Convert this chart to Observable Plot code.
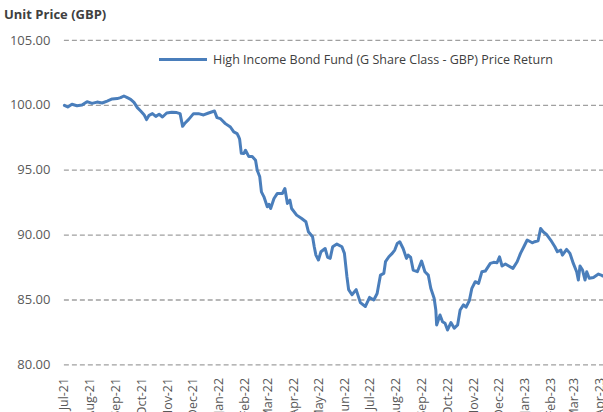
<!DOCTYPE html>
<html>
<head>
<meta charset="utf-8">
<script src="https://cdn.jsdelivr.net/npm/d3@7"></script>
<script src="https://cdn.jsdelivr.net/npm/@observablehq/plot@0.6"></script>
<style>
  html, body { margin: 0; padding: 0; background: #fff; overflow: hidden; }
  #wrap { position: relative; width: 603px; height: 412px; overflow: hidden; font-family: "Open Sans", sans-serif; }
  #title { position: absolute; left: 4px; top: 5px; font-size: 13px; font-weight: bold; color: #404040; }
  #legend { position: absolute; left: 159px; top: 51px; font-size: 12.5px; color: #404040; display: flex; align-items: center; white-space: nowrap; }
  #legend .sw { width: 48px; height: 3px; background: #4a7ebb; margin-right: 6px; }
  #chart { position: absolute; left: 0; top: 0; }
</style>
</head>
<body>
<div id="wrap">
  <div id="chart"></div>
  <div id="title">Unit Price (GBP)</div>
  <div id="legend"><span class="sw"></span><span id="legendText"></span></div>
</div>
<script>
const seriesName = "High Income Bond Fund (G Share Class - GBP) Price Return";
const yTicks = [80, 85, 90, 95, 100, 105];
const dates = [
  "2021-07-01","2021-07-05","2021-07-10","2021-07-16","2021-07-22","2021-07-28",
  "2021-08-03","2021-08-09","2021-08-15","2021-08-21","2021-08-27",
  "2021-09-02","2021-09-06","2021-09-10","2021-09-14","2021-09-18","2021-09-22","2021-09-26","2021-09-30",
  "2021-10-04","2021-10-07","2021-10-10","2021-10-14","2021-10-18","2021-10-22","2021-10-26","2021-10-31",
  "2021-11-06","2021-11-12","2021-11-16","2021-11-19","2021-11-22","2021-11-26",
  "2021-12-02","2021-12-08","2021-12-14","2021-12-20","2021-12-27","2021-12-30",
  "2022-01-03","2022-01-05","2022-01-09","2022-01-15","2022-01-19","2022-01-23","2022-01-25","2022-01-26","2022-01-28","2022-01-31",
  "2022-02-02","2022-02-06","2022-02-10","2022-02-14","2022-02-16","2022-02-19","2022-02-21","2022-02-24","2022-02-28",
  "2022-03-02","2022-03-04","2022-03-08","2022-03-12","2022-03-18","2022-03-21","2022-03-24","2022-03-27","2022-03-29",
  "2022-04-04","2022-04-10","2022-04-15","2022-04-18","2022-04-23","2022-04-25","2022-04-27","2022-04-30",
  "2022-05-03","2022-05-08","2022-05-11","2022-05-14","2022-05-17","2022-05-22","2022-05-28","2022-05-31",
  "2022-06-03","2022-06-05","2022-06-09","2022-06-14","2022-06-19","2022-06-25","2022-06-30",
  "2022-07-05","2022-07-09","2022-07-13","2022-07-17","2022-07-19","2022-07-23","2022-07-27","2022-07-30",
  "2022-08-02","2022-08-05","2022-08-09","2022-08-13","2022-08-15","2022-08-18","2022-08-21","2022-08-26","2022-08-31",
  "2022-09-04","2022-09-08","2022-09-11","2022-09-15","2022-09-17","2022-09-18","2022-09-22","2022-09-25","2022-09-28",
  "2022-10-01","2022-10-05","2022-10-09","2022-10-13","2022-10-16","2022-10-20","2022-10-23","2022-10-27","2022-10-30",
  "2022-11-03","2022-11-07","2022-11-11","2022-11-15","2022-11-21","2022-11-25","2022-11-29",
  "2022-12-02","2022-12-05","2022-12-09","2022-12-13","2022-12-18","2022-12-23","2022-12-27","2022-12-31",
  "2023-01-04","2023-01-10","2023-01-13","2023-01-17","2023-01-20","2023-01-23","2023-01-27",
  "2023-02-01","2023-02-06","2023-02-09","2023-02-13","2023-02-15","2023-02-20","2023-02-24","2023-02-28",
  "2023-03-04","2023-03-06","2023-03-08","2023-03-11","2023-03-14","2023-03-16","2023-03-19","2023-03-24","2023-03-30",
  "2023-04-03","2023-04-04"
];
const prices = [
  100.00, 99.87, 100.08, 99.97, 100.02, 100.28,
  100.15, 100.25, 100.18, 100.33, 100.49,
  100.52, 100.59, 100.72, 100.59, 100.46, 100.23, 99.82, 99.56,
  99.28, 98.90, 99.23, 99.36, 99.15, 99.31, 99.10, 99.41,
  99.46, 99.44, 99.36, 98.38, 98.64, 98.90,
  99.36, 99.36, 99.26, 99.41, 99.56, 99.05,
  98.97, 98.85, 98.59, 98.33, 97.95, 97.82, 97.56, 97.40, 96.30, 96.28,
  96.54, 96.05, 96.05, 95.77, 95.00, 94.49, 93.33, 92.95, 92.18,
  92.38, 92.05, 92.82, 93.21, 93.21, 93.59, 92.44, 92.69, 92.05,
  91.54, 91.28, 91.03, 90.26, 89.87, 89.10, 88.46, 88.08,
  88.72, 88.97, 88.28, 88.21, 89.10, 89.31, 89.10, 88.59,
  86.79, 85.80, 85.40, 85.80, 84.80, 84.50, 85.20,
  85.00, 85.50, 86.92, 87.05, 87.95, 88.33, 88.59, 88.85,
  89.36, 89.49, 88.97, 88.21, 88.46, 88.28, 87.31, 87.18, 88.00,
  87.18, 86.92, 85.90, 85.13, 84.23, 83.08, 83.85, 83.33, 83.21,
  82.69, 83.26, 82.82, 83.08, 84.23, 84.62, 84.44, 84.95, 85.90,
  86.41, 86.28, 87.18, 87.23, 87.82, 87.90, 87.87,
  88.33, 87.62, 87.77, 87.62, 87.44, 87.95, 88.59, 89.10,
  89.62, 89.41, 89.49, 89.56, 90.51, 90.26, 90.05,
  89.62, 89.10, 88.72, 88.85, 88.46, 88.90, 88.59, 87.82,
  87.18, 86.54, 87.62, 87.31, 86.54, 87.18, 86.67, 86.74, 87.00,
  86.90, 86.85
];
const xStart = "2021-07-01";
const xEnd = "2023-04-05";

const data = dates.map((d, i) => ({date: new Date(d), price: prices[i]}));
document.getElementById("legendText").textContent = seriesName;

const chart = Plot.plot({
  width: 604,
  height: 412,
  marginLeft: 64,
  marginRight: 0,
  marginTop: 40,
  marginBottom: 47,
  style: {fontFamily: "Open Sans, sans-serif", fontSize: "12px", color: "#595959", background: "transparent", overflow: "visible"},
  x: {type: "utc", domain: [new Date(xStart), new Date(xEnd)]},
  y: {domain: [80, 105]},
  marks: [
    Plot.gridY(yTicks, {stroke: "#a0a0a0", strokeOpacity: 1, strokeWidth: 1.3, strokeDasharray: "5,3"}),
    Plot.axisY(yTicks, {tickSize: 0, tickPadding: 14, tickFormat: d3.format(".2f"), fontSize: 13, label: null}),
    Plot.axisX({ticks: d3.utcMonth.every(1), tickFormat: d3.utcFormat("%b-%y"), tickRotate: -90, tickSize: 0, tickPadding: 13, fontSize: 12.5, label: null}),
    Plot.line(data, {x: "date", y: "price", stroke: "#4a7ebb", strokeWidth: 3, strokeLinejoin: "round"})
  ]
});
document.getElementById("chart").appendChild(chart);
</script>
</body>
</html>
